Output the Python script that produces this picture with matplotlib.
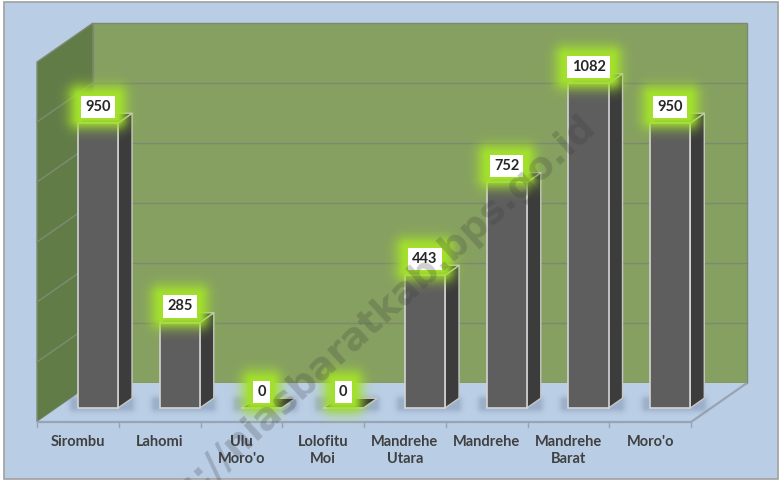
import numpy as np
import matplotlib
matplotlib.use("Agg")
import matplotlib.pyplot as plt
from matplotlib.patches import Polygon, Rectangle

# ---------------- data ----------------
categories = ["Sirombu", "Lahomi", "Ulu\nMoro'o", "Lolofitu\nMoi", "Mandrehe\nUtara",
              "Mandrehe", "Mandrehe\nBarat", "Moro'o"]
values = [950, 285, 0, 0, 443, 752, 1082, 950]
value_ticks = [0, 200, 400, 600, 800, 1000, 1200]

# ---------------- geometry (pixels) ----------------
W, H = 779, 480
PX0, SX = 98.0, 81.75      # pixel x of first bar front centre, px per category
PY0, SY = 408.0, 0.3       # pixel y of value 0 at bar front, px per value unit
DEPX, DEPY = 56.0, 39.0    # full floor depth offset in pixels
DF = 14.0 / 39.0           # depth of bar front face
DB = DF + 0.25             # depth of bar back face
HW = 0.245                 # half bar width (category units)
VMAX = value_ticks[-1]

X0, X1 = (0 - PX0) / SX, (W - PX0) / SX
Y0, Y1 = (PY0 - H) / SY, PY0 / SY


def proj(i, d, v):
    return (i + (d - DF) * DEPX / SX, v + (d - DF) * DEPY / SY)


def px2x(px):
    return (px - PX0) / SX


def py2y(py):
    return (PY0 - py) / SY


def x2px(x):
    return PX0 + x * SX


def y2py(y):
    return PY0 - y * SY


fig = plt.figure(figsize=(W / 100, H / 100), dpi=100)
fig.patch.set_facecolor("white")
ax = fig.add_axes([0, 0, 1, 1])
ax.set_xlim(X0, X1)
ax.set_ylim(Y0, Y1)
ax.axis("off")

n = len(values)
idx = np.arange(n)

# chart area background with border
ax.add_patch(Rectangle((px2x(4), py2y(479)), px2x(778) - px2x(4), py2y(2) - py2y(479),
                       facecolor="#b9cde5", edgecolor="#a0a0a0", lw=1.2, zorder=0))

# back wall
L, R = -0.5, n - 0.5
back = [proj(L, 1, 0), proj(R, 1, 0), proj(R, 1, VMAX), proj(L, 1, VMAX)]
ax.add_patch(Polygon(back, closed=True, facecolor="#86a061", edgecolor="#7d8a72", lw=1.0, zorder=1))
# side wall
side = [proj(L, 0, 0), proj(L, 1, 0), proj(L, 1, VMAX), proj(L, 0, VMAX)]
ax.add_patch(Polygon(side, closed=True, facecolor="#627c48", edgecolor="#7d8a72", lw=1.0, zorder=1))
# floor
floor = [proj(L, 0, 0), proj(R, 0, 0), proj(R, 1, 0), proj(L, 1, 0)]
ax.add_patch(Polygon(floor, closed=True, facecolor="#bacee6", edgecolor="none", zorder=1))
fx = [proj(L, 0, 0), proj(R, 0, 0), proj(R, 1, 0)]
ax.plot([p[0] for p in fx], [p[1] for p in fx], color="#98a4b4", lw=1.6, zorder=2,
        solid_capstyle="butt")

# gridlines
for v in value_ticks[1:-1]:
    a, b = proj(L, 1, v), proj(R, 1, v)
    ax.plot([a[0], b[0]], [a[1], b[1]], color="#7b8a6e", lw=1.0, zorder=2)
    c = proj(L, 0, v)
    ax.plot([c[0], a[0]], [c[1], a[1]], color="#7e8c72", lw=1.0, zorder=2)

# category ticks
for k in range(n + 1):
    p = proj(k - 0.5, 0, 0)
    ax.plot([p[0], p[0]], [p[1], p[1] - 5 / SY], color="#98a4b4", lw=1.0, zorder=2)

# ---------------- soft shadows & glow (raster) ----------------
yy, xx = np.mgrid[0:H, 0:W] + 0.5
shadow = np.zeros((H, W))
glow = np.zeros((H, W))


def rect_dist(cx, cy, hw, hh):
    dx = np.maximum(np.abs(xx - cx) - hw, 0)
    dy = np.maximum(np.abs(yy - cy) - hh, 0)
    return np.hypot(dx, dy)


for i, v in enumerate(values):
    fl = x2px(i - HW)
    fr = x2px(i + HW)
    base = y2py(0)
    d = rect_dist((fl - 4 + fr + 12) / 2, base - 4, (fr + 12 - fl + 4) / 2, 3)
    shadow = np.maximum(shadow, 0.3 * np.exp(-(d / 5.0) ** 2))
    digits = len(str(v))
    cx = x2px(i)
    cy = y2py(v) - 16
    bw = 9.0 * digits + 8
    d = rect_dist(cx, cy, bw / 2 + 1, 11.5)
    glow = np.maximum(glow, np.clip(np.exp(-(d / 11.5) ** 2), 0, 1))

simg = np.zeros((H, W, 4))
simg[..., :3] = np.array([0x55, 0x6a, 0x8a]) / 255
simg[..., 3] = shadow
ax.imshow(simg, extent=(X0, X1, Y0, Y1), origin="upper", aspect="auto",
          interpolation="bilinear", zorder=3)

# ---------------- bars ----------------
for i, v in enumerate(values):
    sidef = [proj(i + HW, DF, 0), proj(i + HW, DB, 0), proj(i + HW, DB, v), proj(i + HW, DF, v)]
    ax.add_patch(Polygon(sidef, closed=True, facecolor="#3c3c3c", edgecolor="#c8c8c8",
                         lw=1.0, zorder=4, joinstyle="round"))
    topf = [proj(i - HW, DF, v), proj(i + HW, DF, v), proj(i + HW, DB, v), proj(i - HW, DB, v)]
    ax.add_patch(Polygon(topf, closed=True, facecolor="#2e2e2e", edgecolor="#c8c8c8",
                         lw=1.0, zorder=4, joinstyle="round"))
ax.bar(idx, values, width=2 * HW, bottom=0, color="#5e5e5e", edgecolor="#d4d4d4",
       linewidth=1.2, zorder=5)

gimg = np.zeros((H, W, 4))
gimg[..., :3] = np.array([0xa2, 0xe0, 0x2c]) / 255
gimg[..., 3] = glow
ax.imshow(gimg, extent=(X0, X1, Y0, Y1), origin="upper", aspect="auto",
          interpolation="bilinear", zorder=6)

# value labels
for i, v in enumerate(values):
    ax.text(i, v + 16 / SY, str(v), ha="center", va="center", fontsize=10.5,
            fontweight="bold", family=["Lato", "DejaVu Sans"], color="#262626", zorder=7,
            bbox=dict(boxstyle="square,pad=0.28", facecolor="white", edgecolor="none"))

# category labels
for i, name in enumerate(categories):
    p = proj(i, 0, 0)
    ax.text(p[0], py2y(435), name, ha="center", va="top", fontsize=10.5,
            fontweight="bold", family=["Lato", "DejaVu Sans"], color="#404040",
            linespacing=1.25, zorder=7)

# watermark
ax.text(px2x(598), py2y(128), "https://niasbaratkab.bps.go.id", rotation=42.4,
        rotation_mode="anchor", ha="right", va="baseline", fontsize=27,
        fontweight="bold", color="#3a3a3a", alpha=0.24, zorder=8)

ax.set_xlim(X0, X1)
ax.set_ylim(Y0, Y1)
fig.savefig("out.png", dpi=100)
